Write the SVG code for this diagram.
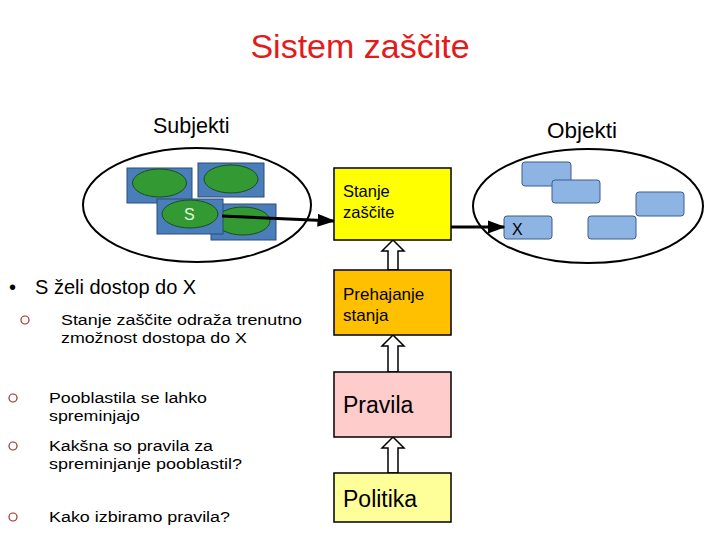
<svg xmlns="http://www.w3.org/2000/svg" width="720" height="540" viewBox="0 0 720 540">
<defs>
<style>
text{font-family:"Liberation Sans",Arial,sans-serif;fill:#000}
.subj{fill:#4A7EBB;stroke:#2C4D75;stroke-width:1}
.grn{fill:#339933;stroke:#1E4D1E;stroke-width:1}
.obj{fill:#8EB4E3;stroke:#3A5F8F;stroke-width:1}
.ell{fill:none;stroke:#000;stroke-width:2}
.box{stroke:#000;stroke-width:1.5}
.hollow{fill:#fff;stroke:#000;stroke-width:1.5;stroke-linejoin:miter}
.conn{stroke:#000;stroke-width:3;fill:none}
.bul{fill:none;stroke:#A0302A;stroke-width:1.2}
.t18{font-size:15.5px}
</style>
<marker id="ah" markerWidth="6" markerHeight="6" refX="5.5" refY="3" orient="auto" markerUnits="strokeWidth">
<path d="M0,0.8 L6,3 L0,5.2 Z" fill="#000"/>
</marker>
</defs>
<rect width="720" height="540" fill="#fff"/>
<text x="360" y="58" font-size="34" text-anchor="middle" style="fill:#E31B1B">Sistem zaščite</text>
<text x="153" y="133" font-size="21.5">Subjekti</text>
<text x="547" y="138" font-size="22.5">Objekti</text>
<g id="subjekti">
<ellipse class="ell" cx="197" cy="205" rx="114" ry="57"/>
<rect class="subj" x="127" y="168" width="65" height="35"/>
<ellipse class="grn" cx="159.5" cy="183" rx="27" ry="14"/>
<rect class="subj" x="198" y="163" width="66" height="34"/>
<ellipse class="grn" cx="231" cy="179" rx="27" ry="14"/>
<rect class="subj" x="211" y="204" width="65" height="36"/>
<ellipse class="grn" cx="243" cy="221" rx="27" ry="14"/>
<rect class="subj" x="157" y="199" width="66" height="35"/>
<ellipse class="grn" cx="190" cy="214" rx="28" ry="14"/>
<text x="184" y="220" font-size="16" style="fill:#E0FFE0">S</text>
</g>
<g id="objekti">
<ellipse class="ell" cx="588" cy="206" rx="115" ry="57"/>
<rect class="obj" x="522" y="162" width="49" height="24" rx="3"/>
<rect class="obj" x="552" y="180" width="48" height="23" rx="3"/>
<rect class="obj" x="636" y="192" width="48" height="24" rx="3"/>
<rect class="obj" x="504" y="216" width="48" height="23" rx="3"/>
<rect class="obj" x="588" y="216" width="48" height="23" rx="3"/>
<text x="512" y="235" font-size="16">X</text>
</g>
<g id="connectors">
<path class="conn" d="M222,216 L334,221" marker-end="url(#ah)"/>
<path class="conn" d="M451,227 L504,227" marker-end="url(#ah)"/>
<polygon class="hollow" points="393,240 404,251 398,251 398,270 388,270 388,251 382,251"/>
<polygon class="hollow" points="393,335 404,346 398,346 398,372 388,372 388,346 382,346"/>
<polygon class="hollow" points="393,437 404,448 398,448 398,473 388,473 388,448 382,448"/>
</g>
<g id="stanje">
<rect class="box" x="334" y="168" width="117" height="72" fill="#FFFF00"/>
<text x="343" y="197" font-size="16.5">Stanje</text>
<text x="343" y="218" font-size="16.5">zaščite</text>
</g>
<g id="prehajanje">
<rect class="box" x="334" y="270" width="117" height="65" fill="#FFC000"/>
<text x="343" y="300" font-size="17">Prehajanje</text>
<text x="343" y="321" font-size="17">stanja</text>
</g>
<g id="pravila">
<rect class="box" x="334" y="372" width="117" height="65" fill="#FFCCCC"/>
<text x="343" y="413" font-size="23">Pravila</text>
</g>
<g id="politika">
<rect class="box" x="334" y="473" width="117" height="49" fill="#FFFF99"/>
<text x="343" y="507" font-size="23">Politika</text>
</g>
<g id="besedilo">
<text x="9" y="294" font-size="20">•</text>
<text x="35" y="294" font-size="20">S želi dostop do X</text>
<circle class="bul" cx="25" cy="320" r="4"/>
<text class="t18" x="61" y="325" textLength="241" lengthAdjust="spacingAndGlyphs">Stanje zaščite odraža trenutno</text>
<text class="t18" x="61" y="343" textLength="186" lengthAdjust="spacingAndGlyphs">zmožnost dostopa do X</text>
<circle class="bul" cx="13" cy="398" r="4"/>
<text class="t18" x="49" y="403" textLength="158" lengthAdjust="spacingAndGlyphs">Pooblastila se lahko</text>
<text class="t18" x="49" y="421" textLength="91" lengthAdjust="spacingAndGlyphs">spreminjajo</text>
<circle class="bul" cx="13" cy="446" r="4"/>
<text class="t18" x="49" y="451" textLength="164" lengthAdjust="spacingAndGlyphs">Kakšna so pravila za</text>
<text class="t18" x="49" y="469" textLength="193" lengthAdjust="spacingAndGlyphs">spreminjanje pooblastil?</text>
<circle class="bul" cx="13" cy="517" r="4"/>
<text class="t18" x="49" y="522" textLength="181" lengthAdjust="spacingAndGlyphs">Kako izbiramo pravila?</text>
</g>
</svg>
